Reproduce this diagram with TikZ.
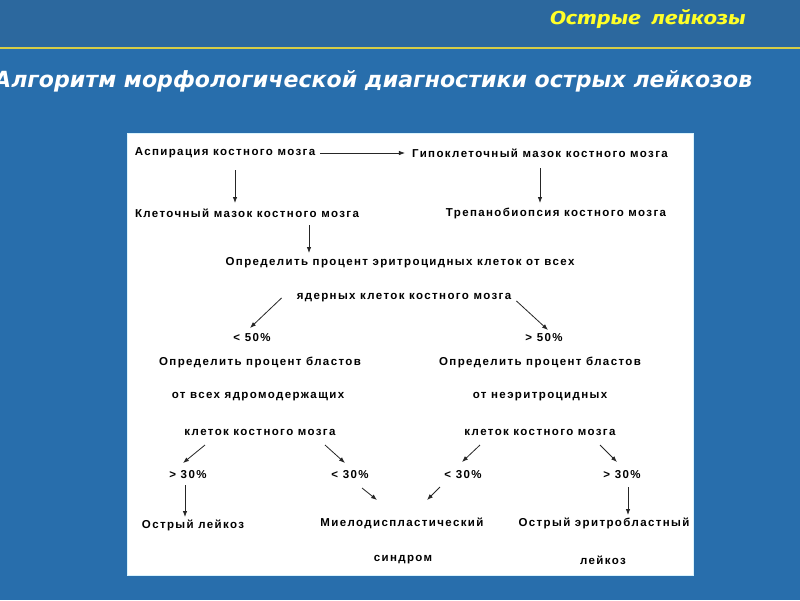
\documentclass[tikz,border=0pt]{standalone}
\usepackage{fontspec}
\usepackage{graphicx}
\setmainfont{Liberation Sans}
\newfontfamily\bodyfont[LetterSpace=12]{Liberation Sans}
\newfontfamily\headfont{Fira Sans}
\newfontfamily\bigfont{DejaVu Sans}
\usetikzlibrary{arrows.meta,calc}
\definecolor{bgblue}{RGB}{40,110,172}
\definecolor{bandblue}{RGB}{44,104,158}
\definecolor{ylw}{RGB}{255,255,40}
\definecolor{lineylw}{RGB}{215,205,70}
\tikzset{
  txt/.style={font=\bodyfont\bfseries\fontsize{11.5}{13}\selectfont, text=black, inner sep=0pt},
  arr/.style={-{Latex[length=6pt,width=4.5pt]}, line width=0.8pt, draw=black!85},
}
\begin{document}
\begin{tikzpicture}[x=1pt,y=-1pt]
\useasboundingbox (0,0) rectangle (800,600);
\clip (0,0) rectangle (800,600);
\fill[bgblue] (0,0) rectangle (800,600);
\fill[bandblue] (0,0) rectangle (800,47);
\draw[lineylw, line width=2pt] (0,48) -- (800,48);
\node[anchor=base east, text=ylw, inner sep=0] (ttl) at (746,24) {\resizebox{196pt}{15pt}{\headfont\bfseries\itshape Острые\ \ лейкозы}};
\node[anchor=base west, text=white, inner sep=0] (head) at (-6,87) {\resizebox{758pt}{17pt}{\bigfont\bfseries\itshape Алгоритм морфологической диагностики острых лейкозов}};
\fill[white] (127,133) rectangle (693,575);
\draw[cyan!15, line width=1pt] (127,133) rectangle (693,575);

\node[txt] (asp) at (225,153) {Аспирация костного мозга};
\node[txt] (hypo) at (540,153) {Гипоклеточный мазок костного мозга};
\node[txt] (klet) at (247,213) {Клеточный мазок костного мозга};
\node[txt] (trep) at (556,213) {Трепанобиопсия костного мозга};
\node[txt] (opr) at (400,263) {Определить процент эритроцидных клеток от всех};
\node[txt] (yad) at (404,298) {ядерных клеток костного мозга};
\node[txt] (lt50) at (252,338) {< 50\%};
\node[txt] (gt50) at (544,338) {> 50\%};
\node[txt] (bl1) at (260,362) {Определить процент бластов};
\node[txt] (bl2) at (540,362) {Определить процент бластов};
\node[txt] (ot1) at (258,397) {от всех ядромодержащих};
\node[txt] (ot2) at (540,397) {от неэритроцидных};
\node[txt] (kl1) at (260,432) {клеток костного мозга};
\node[txt] (kl2) at (540,432) {клеток костного мозга};
\node[txt] (g30a) at (188,475) {> 30\%};
\node[txt] (l30a) at (350,475) {< 30\%};
\node[txt] (l30b) at (463,475) {< 30\%};
\node[txt] (g30b) at (622,475) {> 30\%};
\node[txt] (ol) at (193,525) {Острый лейкоз};
\node[txt] (mds) at (402,523) {Миелодиспластический};
\node[txt] (oeb) at (604,523) {Острый эритробластный};
\node[txt] (sin) at (403,560) {синдром};
\node[txt] (lk) at (603,560) {лейкоз};

\draw[arr] ($(asp.east)+(5,0)$) -- ($(hypo.west)+(-7,0)$);
\draw[arr] ($(asp)+(10,17)$) -- ($(klet)+(-12,-10)$);
\draw[arr] ($(hypo)+(0,15)$) -- ($(trep)+(-16,-10)$);
\draw[arr] ($(klet)+(62,12)$) -- ($(opr)+(-91,-10)$);
\draw[arr] ($(yad.west)+(-15,0)$) -- ($(lt50)+(-2,-10)$);
\draw[arr] ($(yad.east)+(5,3)$) -- ($(gt50)+(4,-8)$);
\draw[arr] ($(kl1)+(-55,13)$) -- ($(g30a)+(-5,-12)$);
\draw[arr] ($(kl1)+(65,13)$) -- ($(l30a)+(-5,-12)$);
\draw[arr] ($(kl2)+(-60,13)$) -- ($(l30b)+(-1,-13)$);
\draw[arr] ($(kl2)+(60,13)$) -- ($(g30b)+(-5,-13)$);
\draw[arr] ($(g30a)+(-3,10)$) -- ($(ol)+(-8,-8)$);
\draw[arr] ($(l30a)+(12,13)$) -- ($(mds)+(-25,-23)$);
\draw[arr] ($(l30b)+(-23,12)$) -- ($(mds)+(25,-23)$);
\draw[arr] ($(g30b)+(6,12)$) -- ($(oeb)+(24,-8)$);
\end{tikzpicture}
\end{document}
